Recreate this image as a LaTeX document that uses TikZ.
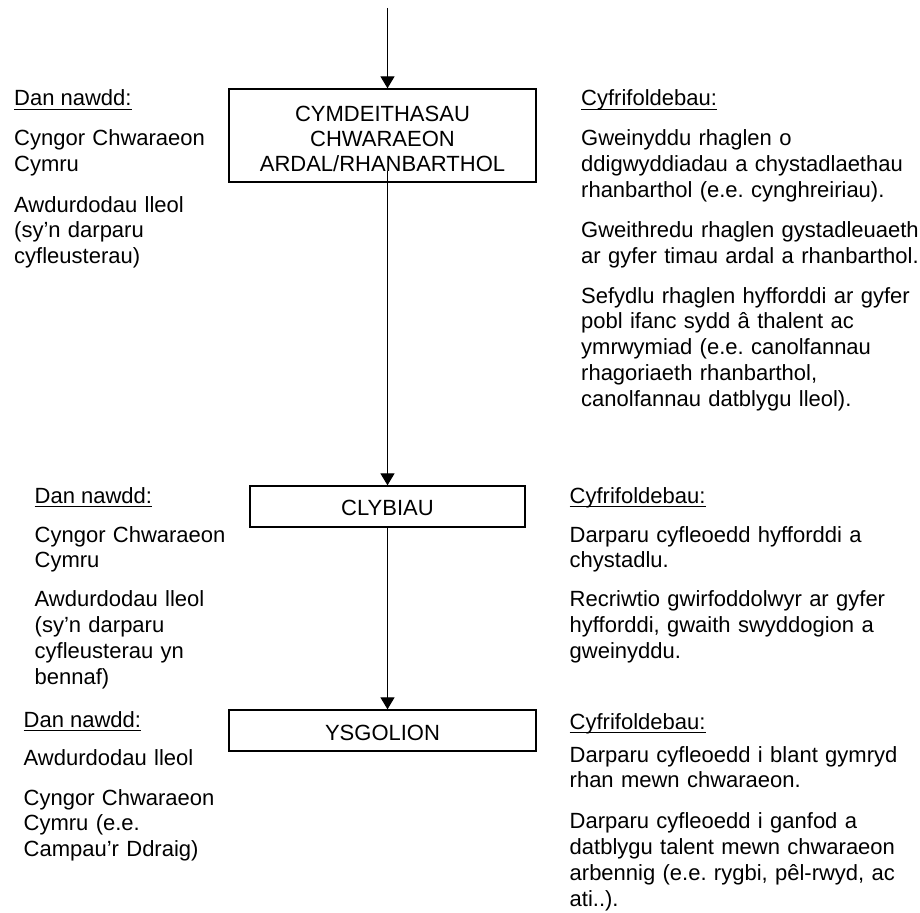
\documentclass[tikz,border=0pt]{standalone}
\usepackage{fontspec}
\setmainfont{Liberation Sans}
\usetikzlibrary{arrows.meta}
\frenchspacing
\tikzset{
  txt/.style={anchor=base west, align=left, inner sep=0pt, text width=345pt,
    font=\fontsize{22}{25.9}\selectfont\frenchspacing},
  head/.style={anchor=base west, inner sep=0pt, font=\fontsize{22}{25.9}\selectfont},
  boxnode/.style={draw, line width=1.3pt, inner sep=0pt},
  boxtxt/.style={anchor=base, align=center, inner sep=0pt, text width=300pt,
    font=\fontsize{22}{25}\selectfont},
  arr/.style={line width=1.2pt, -{Triangle[width=14pt,length=12pt]}},
  uline/.style={line width=1.3pt}
}
\begin{document}
\begin{tikzpicture}[x=1pt,y=-1pt]
\useasboundingbox (0,0) rectangle (920,912);
\fill[white] (0,0) rectangle (920,912);

% boxes
\node[boxnode, minimum width=307pt, minimum height=93pt] (b1) at (382.5,135.5) {};
\node[boxtxt] (b1t) at (382.5,121.7) {CYMDEITHASAU\\CHWARAEON\\ARDAL/RHANBARTHOL};
\node[boxnode, minimum width=275pt, minimum height=41pt] (b2) at (387.5,506.5) {};
\node[boxtxt] (b2t) at (387.5,515) {CLYBIAU};
\node[boxnode, minimum width=307pt, minimum height=41pt] (b3) at (382.5,730.5) {};
\node[boxtxt] (b3t) at (382.5,740) {YSGOLION};

% connectors
\coordinate (top) at (387.5,8);
\draw[arr] (top) -- (b1.north -| top);
\draw[arr] ([yshift=12pt]b1.south -| top) -- (b2.north -| top);
\draw[arr] (b2.south -| top) -- (b3.north -| top);

% top section
\node[head] (l1h) at (14,106) {Dan nawdd:};
\draw[uline] ([yshift=-3.5pt]l1h.base west) -- ([yshift=-3.5pt]l1h.base east);
\node[txt] (l1a) at (14,146) {Cyngor Chwaraeon\\Cymru};
\node[txt] (l1b) at (14,212) {Awdurdodau lleol\\(sy’n darparu\\cyfleusterau)};

\node[head] (r1h) at (581,106) {Cyfrifoldebau:};
\draw[uline] ([yshift=-3.5pt]r1h.base west) -- ([yshift=-3.5pt]r1h.base east);
\node[txt] (r1a) at (581,146) {Gweinyddu rhaglen o\\ddigwyddiadau a chystadlaethau\\rhanbarthol (e.e. cynghreiriau).};
\node[txt] (r1b) at (581,237.5) {Gweithredu rhaglen gystadleuaeth\\ar gyfer timau ardal a rhanbarthol.};
\node[txt] (r1c) at (581,303) {Sefydlu rhaglen hyfforddi ar gyfer\\pobl ifanc sydd â thalent ac\\ymrwymiad (e.e. canolfannau\\rhagoriaeth rhanbarthol,\\canolfannau datblygu lleol).};

% middle section
\node[head] (l2h) at (34.5,503) {Dan nawdd:};
\draw[uline] ([yshift=-3.5pt]l2h.base west) -- ([yshift=-3.5pt]l2h.base east);
\node[txt] (l2a) at (34.5,542) {Cyngor Chwaraeon\\Cymru};
\node[txt] (l2b) at (34.5,606.5) {Awdurdodau lleol\\(sy’n darparu\\cyfleusterau yn\\bennaf)};

\node[head] (r2h) at (569.5,503) {Cyfrifoldebau:};
\draw[uline] ([yshift=-3.5pt]r2h.base west) -- ([yshift=-3.5pt]r2h.base east);
\node[txt] (r2a) at (569.5,542) {Darparu cyfleoedd hyfforddi a\\chystadlu.};
\node[txt] (r2b) at (569.5,606.5) {Recriwtio gwirfoddolwyr ar gyfer\\hyfforddi, gwaith swyddogion a\\gweinyddu.};

% bottom section
\node[head] (l3h) at (23.5,727) {Dan nawdd:};
\draw[uline] ([yshift=-3.5pt]l3h.base west) -- ([yshift=-3.5pt]l3h.base east);
\node[txt] (l3a) at (23.5,765) {Awdurdodau lleol};
\node[txt] (l3b) at (23.5,805) {Cyngor Chwaraeon\\Cymru (e.e.\\Campau’r Ddraig)};

\node[head] (r3h) at (569.5,729) {Cyfrifoldebau:};
\draw[uline] ([yshift=-3.5pt]r3h.base west) -- ([yshift=-3.5pt]r3h.base east);
\node[txt] (r3a) at (569.5,762) {Darparu cyfleoedd i blant gymryd\\rhan mewn chwaraeon.};
\node[txt] (r3b) at (569.5,828.3) {Darparu cyfleoedd i ganfod a\\datblygu talent mewn chwaraeon\\arbennig (e.e. rygbi, pêl-rwyd, ac\\ati..).};
\end{tikzpicture}
\end{document}
